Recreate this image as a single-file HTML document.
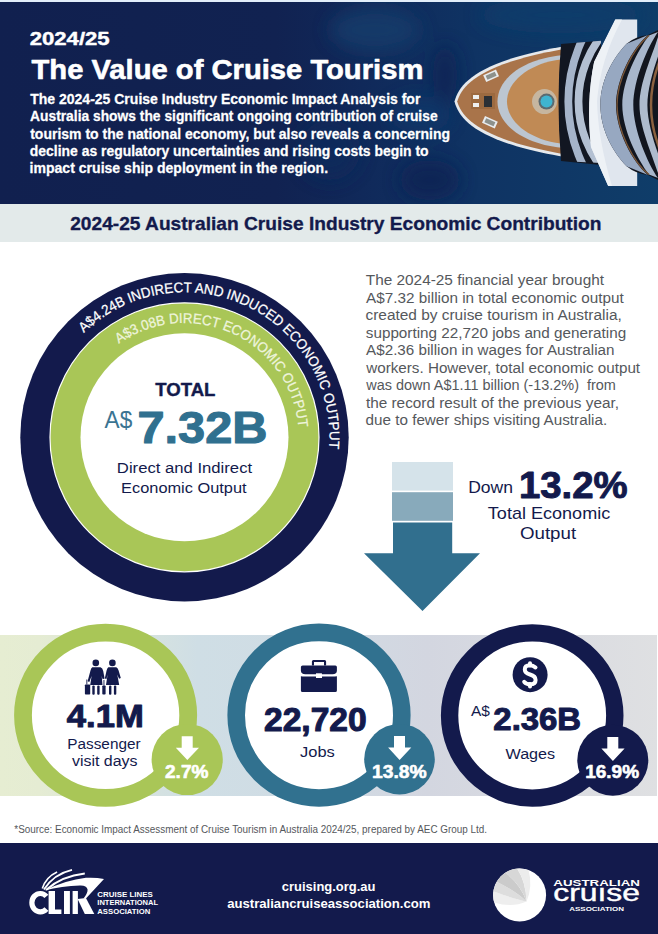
<!DOCTYPE html>
<html><head><meta charset="utf-8"><style>html,body{margin:0;padding:0;background:#fff;width:658px;height:934px;overflow:hidden} svg{display:block}</style></head>
<body>
<svg width="658" height="934" viewBox="0 0 658 934" font-family='"Liberation Sans", sans-serif'>
<defs>
  <linearGradient id="hdr" x1="0" y1="0" x2="1" y2="0">
    <stop offset="0" stop-color="#11204f"/>
    <stop offset="0.42" stop-color="#112251"/>
    <stop offset="0.55" stop-color="#10295a"/>
    <stop offset="0.72" stop-color="#0f3363"/>
    <stop offset="1" stop-color="#0f3d69"/>
  </linearGradient>
  <linearGradient id="band" x1="0" y1="0" x2="658" y2="0" gradientUnits="userSpaceOnUse">
    <stop offset="0" stop-color="#e6edd2"/>
    <stop offset="0.06" stop-color="#e5ecd3"/>
    <stop offset="0.3" stop-color="#cfdee5"/>
    <stop offset="0.45" stop-color="#d0dce4"/>
    <stop offset="0.65" stop-color="#d3d6e0"/>
    <stop offset="1" stop-color="#dfe0e2"/>
  </linearGradient>
  <path id="pOut" d="M83.77 333.00 A145 145 0 0 1 329.07 448.42"/>
  <path id="pIn" d="M118.94 343.67 A114.3 114.3 0 0 1 298.37 427.34"/>
</defs>
<rect width="658" height="934" fill="#fff"/>
<rect x="0" y="0" width="658" height="2" fill="#e2eefa"/>
<rect x="0" y="2" width="658" height="202" fill="url(#hdr)"/>
<clipPath id="hdrClip"><rect x="0" y="2" width="658" height="202"/></clipPath>
<g id="ship" clip-path="url(#hdrClip)">
<defs>
 <clipPath id="supR"><path d="M594 54 L628.6 42 L658 33 L658 173 L628.6 171 L594 158 Z"/></clipPath>
 <clipPath id="supL"><path d="M560 44 L601 40.8 L601 163 L560 161 Z"/></clipPath>
 <filter id="blur6" x="-50%" y="-50%" width="200%" height="200%"><feGaussianBlur stdDeviation="9"/></filter>
</defs>
<g filter="url(#blur6)" opacity="0.8">
 <ellipse cx="375" cy="30" rx="45" ry="22" fill="#123c6c"/>
 <ellipse cx="420" cy="115" rx="30" ry="18" fill="#11396a"/>
 <ellipse cx="560" cy="15" rx="80" ry="18" fill="#103e6c"/>
 <ellipse cx="445" cy="75" rx="12" ry="30" fill="#0c2452"/>
 <ellipse cx="330" cy="150" rx="30" ry="30" fill="#0f2b5c"/>
 <ellipse cx="430" cy="180" rx="30" ry="20" fill="#0c2452"/>
</g>
<g>
 <path d="M454.5 101.6 C460 80 485 55 601 41 L601 162.2 C485 148.2 460 123.2 454.5 101.6 Z" fill="#e6e9ec"/>
 <path d="M457.2 101.6 C463 82 487 58 601 43.6 L601 159.6 C487 145.2 463 121.2 457.2 101.6 Z" fill="#a9744a"/>
 <path d="M566 55 C530 57 497.5 75 497.5 101.6 C497.5 128 530 146 566 148 Z" fill="#bcc6d1"/>
 <path d="M566 59 C534 61 507 79 507 101.6 C507 124 534 142 566 144 Z" fill="#c08a55"/>
 <circle cx="544.5" cy="101.6" r="12.5" fill="#c6b6a0"/>
 <circle cx="546.5" cy="101.6" r="8" fill="#5b6a70"/>
 <circle cx="546.5" cy="101.6" r="6" fill="#3fb4d0"/>
 <rect x="484" y="72" width="14" height="7.5" fill="#e8ecef" transform="rotate(-24 491 75.5)"/>
 <rect x="486" y="73.5" width="10" height="4.5" fill="#8d918c" transform="rotate(-24 491 75.5)"/>
 <rect x="483" y="118.5" width="14" height="7.5" fill="#e8ecef" transform="rotate(24 490 122)"/>
 <rect x="485" y="120" width="10" height="4.5" fill="#8d918c" transform="rotate(24 490 122)"/>
 <rect x="471" y="93" width="24" height="16" fill="#9c6a40"/>
 <rect x="473" y="95" width="6" height="4" fill="#eef0f0"/>
 <rect x="473" y="103" width="6" height="4" fill="#eef0f0"/>
 <rect x="484" y="96" width="8" height="11" fill="#2a2f35"/>
 <path d="M561 44 L601 40.8 L601 165 L561 161 Q556 101.6 561 44 Z" fill="#121722"/>
 <g clip-path="url(#supL)" fill="none">
  <circle cx="713" cy="101.6" r="144.7" stroke="#a5b4ca" stroke-width="7.8"/>
  <circle cx="684" cy="101.6" r="105.5" stroke="#b3c0d2" stroke-width="7.8"/>
 </g>
 <path d="M615.3 19.4 L637.2 19.4 L637.2 186 L608.2 186 L591 147 Q586 101.6 594.1 62 Z" fill="#e0e6ee"/>
 <path d="M615.3 19.4 L622 19.4 Q600 60 597 101.6 Q598 140 612 186 L608.2 186 L591 147 Q586 101.6 594.1 62 Z" fill="#eef2f6"/>
 <path d="M626.6 43.7 Q636 36 648 35 L658 30 L658 180.0 L648 175.0 Q636 174.0 626.6 166.3 C613 152.0 600.4 130.0 600.4 105.0 C600.4 80 613 58 626.6 43.7 Z" fill="#12161f"/>
 <path d="M626.6 43.7 C613 58 600.4 80 600.4 105.0 C600.4 130.0 613 152.0 626.6 166.3 L648 175.0 C632 162.0 616 130.0 616 105.0 C616 80 632 48 648 35 Z" fill="#97a8c1"/>
 <path d="M649 35.5 C638 50 622.3 80 622.3 105.0 C622.3 130.0 638 160.0 649 174.5 L658 178.0 C648 164.0 633.3 130.0 633.3 105.0 C633.3 80 648 46 658 32 Z" fill="#a7b6cb"/>
 <path d="M660 30 C655 50 639.5 80 639.5 105.0 C639.5 130.0 655 160.0 660 180.0 L668 180.0 C662 164.0 647.4 130.0 647.4 105.0 C647.4 80 662 46 668 30 Z" fill="#aebbcd"/>
 <path d="M617 105.0 C617 80 633 48 649 35.5" fill="none" stroke="#7a5638" stroke-width="1.4"/>
 <path d="M617 105.0 C617 130.0 633 162.0 649 174.5" fill="none" stroke="#7a5638" stroke-width="1.4"/>
 <path d="M651 105.0 C651 85 656 70 660 60" fill="none" stroke="#8a6140" stroke-width="2.5"/>
 <path d="M651 105.0 C651 125.0 656 140.0 660 150.0" fill="none" stroke="#8a6140" stroke-width="2.5"/>
</g>
</g>
<rect x="0" y="204" width="658" height="38" fill="#e3eaea"/>

<!-- big circle -->
<circle cx="184.5" cy="437.3" r="164.2" fill="#131a4c"/>
<circle cx="184.5" cy="437.3" r="134.5" fill="#a9c657" stroke="#fff" stroke-width="1.2"/>
<circle cx="184.5" cy="437.3" r="104" fill="#fff"/>
<text font-size="14.2" fill="#fff"><textPath href="#pOut" textLength="350.3" lengthAdjust="spacingAndGlyphs" stroke="#fff" stroke-width="0.25">A$4.24B INDIRECT AND INDUCED ECONOMIC OUTPUT</textPath></text>
<text font-size="14.2" fill="#eef4dc"><textPath href="#pIn" textLength="239.4" lengthAdjust="spacingAndGlyphs" stroke="#eef4dc" stroke-width="0.25">A$3.08B DIRECT ECONOMIC OUTPUT</textPath></text>

<!-- arrow -->
<rect x="392" y="462" width="61" height="28.6" fill="#d5e3ea"/>
<rect x="392" y="492.2" width="61" height="28.6" fill="#88aabb"/>
<path d="M393 522.4 H452.2 V553.2 H480 L422.5 611 L364 553.2 H393 Z" fill="#316f8e"/>

<!-- bottom band -->
<rect x="0" y="635" width="657" height="161" fill="url(#band)"/>
<circle cx="105.6" cy="715.3" r="82.6" fill="#fff" stroke="#a9c657" stroke-width="17.8"/>
<circle cx="187.2" cy="759.5" r="35.6" fill="#a9c657"/>
<circle cx="319" cy="715.2" r="82.8" fill="#fff" stroke="#31718f" stroke-width="17.6"/>
<circle cx="399.5" cy="759.2" r="35.3" fill="#31718f"/>
<circle cx="532.2" cy="715.5" r="82.6" fill="#fff" stroke="#131a4c" stroke-width="17.4"/>
<circle cx="612.8" cy="760.2" r="35.5" fill="#131a4c"/>

<!-- badge arrows -->
<path d="M181.7 736.2 H192.7 V747.8 H199 L187.3 760.1 L175.8 747.8 H181.7 Z" fill="#fff"/>
<path d="M394 736.0 H405 V747.6 H411.3 L399.6 759.9 L388.1 747.6 H394 Z" fill="#fff"/>
<path d="M607.3 737.0 H618.3 V748.6 H624.6 L612.9 760.9 L601.4 748.6 H607.3 Z" fill="#fff"/>

<!-- icons -->
<g id="icons">
<g fill="#131a4c">
 <circle cx="95.8" cy="662.9" r="3.3"/>
 <path d="M92.3 667.3 H100.5 Q102.6 668 103.2 671 L104.6 678.5 L102.6 679.2 L101.7 676 L102.5 685 H90.2 L91.6 676 L89.3 682 L87.6 681.3 L90.5 670.5 Q91 668 92.3 667.3 Z"/>
 <rect x="92.3" y="685.5" width="2.4" height="9.3" rx="1"/>
 <rect x="97.2" y="685.5" width="2.4" height="9.3" rx="1"/>
 <rect x="84.9" y="684.4" width="5.3" height="10.2" rx="0.8"/>
 <rect x="86.4" y="679.5" width="0.9" height="5"/>
 <circle cx="112.4" cy="662.9" r="3.3"/>
 <path d="M108.3 667.3 H116.3 Q118 668 118.6 670.5 L120.8 678 L119 678.7 L117.3 674.5 L119.2 685 H106 L107.6 674.5 L106.5 679 L104.8 678.4 L106.6 670.5 Q107.2 668 108.3 667.3 Z"/>
 <rect x="109" y="685.5" width="2.4" height="9.3" rx="1"/>
 <rect x="113.9" y="685.5" width="2.4" height="9.3" rx="1"/>
 <rect x="102.3" y="685.5" width="3.3" height="9.1" rx="0.8"/>
 <rect x="103.5" y="680" width="0.9" height="5.5"/>
</g>
<g fill="#131a4c">
 <path d="M311.9 665.6 V661.5 Q311.9 660 313.4 660 H324.6 Q326.1 660 326.1 661.5 V665.6 H324 V662 H314 V665.6 Z"/>
 <path d="M302.6 665.5 H335.3 Q336.9 665.5 336.9 667.1 V670.5 Q336.9 674.3 332.5 674.3 H305.3 Q300.9 674.3 300.9 670.5 V667.1 Q300.9 665.5 302.6 665.5 Z"/>
 <path d="M300.9 676.2 Q302.5 676.6 305.3 676.6 H316 V677.9 H322 V676.6 H332.5 Q335.3 676.6 336.9 676.2 V690.6 Q336.9 692.1 335.3 692.1 H302.5 Q300.9 692.1 300.9 690.6 Z"/>
 <rect x="316" y="673.3" width="5.9" height="4.4" fill="#fff"/>
</g>
<circle cx="530.1" cy="674.7" r="17.5" fill="#131a4c"/>
<path d="M535.5 667.5 Q533 665.3 530 665.3 Q524.8 665.3 524.8 669.6 Q524.8 673 530 674.5 Q535.6 676 535.6 680 Q535.6 684.3 530 684.3 Q526.5 684.3 524.2 681.8" fill="none" stroke="#fff" stroke-width="4" stroke-linecap="round"/>
<path d="M530 663.3 V665.5 M530 684 V686.6" stroke="#fff" stroke-width="4" stroke-linecap="round"/>
</g>

<!-- footer -->
<rect x="0" y="843" width="658" height="91" fill="#131a4c"/>
<g id="logos">
<g fill="#fff">
 <path d="M46.4 896.4 A8.4 9.2 0 1 0 46.4 909.0" fill="none" stroke="#fff" stroke-width="5.2"/>
 <path d="M48.6 891 H55 V909.6 H61.4 V914 H48.6 Z"/>
 <path d="M64 891 H69.9 V914 H64 Z"/>
 <path d="M72.6 891 H77.9 V914 H72.6 Z"/>
 <path d="M77.6 899 L85.9 898 L94.3 914 L84.8 914 Z"/>
 <path d="M44.4 890.6 Q66 880 85.9 877.8 Q96 877.3 104 878.9 L85.9 898.6 L83.5 898.6 Q87.8 893 87.6 889.5 Q86.5 885.3 80 885.6 Q62 886.3 44.4 890.6 Z"/>
 <path d="M42.3 888.5 Q46 877 57.1 872" fill="none" stroke="#fff" stroke-width="1.6"/>
 <path d="M43.9 889.5 Q54 874 72 869.9" fill="none" stroke="#fff" stroke-width="1.8"/>
 <path d="M46 890 Q62 876 84.8 873.6" fill="none" stroke="#fff" stroke-width="2"/>
 <text x="97.3" y="897.3" font-size="7.4" font-weight="bold" textLength="55.4" lengthAdjust="spacingAndGlyphs">CRUISE LINES</text>
 <text x="97.3" y="905.4" font-size="7.4" font-weight="bold" textLength="60.7" lengthAdjust="spacingAndGlyphs">INTERNATIONAL</text>
 <text x="97.3" y="914" font-size="7.4" font-weight="bold" textLength="53" lengthAdjust="spacingAndGlyphs">ASSOCIATION</text>
</g>
<circle cx="519.6" cy="895.0" r="26.5" fill="#fff"/>
 <path d="M494.16 902.43 Q512 908 526.5 901.4 Q515 899.5 493.37 891.19 A26.5 26.5 0 0 0 494.16 902.43 Z" fill="#eeeeee"/>
 <path d="M493.37 891.19 Q515 899.5 526.5 901.4 Q516 891.3 496.72 881.63 A26.5 26.5 0 0 0 493.37 891.19 Z" fill="#dddddd"/>
 <path d="M496.72 881.63 Q516 891.3 526.5 901.4 Q521 885 505.50 872.56 A26.5 26.5 0 0 0 496.72 881.63 Z" fill="#cbcbcb"/>
 <path d="M505.50 872.56 Q521 885 526.5 901.4 Q526 882.2 517.13 868.62 A26.5 26.5 0 0 0 505.50 872.56 Z" fill="#d7d7d7"/>
 <path d="M517.13 868.62 Q526 882.2 526.5 901.4 Q533 887 528.57 870.06 A26.5 26.5 0 0 0 517.13 868.62 Z" fill="#ececec"/>
<g fill="#fff">
 <text x="553.3" y="886.2" font-size="8.8" font-weight="bold" textLength="86.7" lengthAdjust="spacingAndGlyphs">AUSTRALIAN</text>
 <text x="553.3" y="901.3" font-size="23" stroke="#fff" stroke-width="0.4" textLength="86.7" lengthAdjust="spacingAndGlyphs">cruıse</text>
 <text x="569.3" y="911.2" font-size="5.5" font-weight="bold" textLength="54.7" lengthAdjust="spacingAndGlyphs">ASSOCIATION</text>
</g>
</g>

<text transform="translate(29.69,45.35) scale(1.1659,1)" font-size="18.99" font-weight="bold" fill="#fff" stroke="#fff" stroke-width="0.43" stroke-linejoin="round" >2024/25</text>
<text transform="translate(31.51,79.20) scale(1.0247,1)" font-size="28.49" font-weight="bold" fill="#fff" stroke="#fff" stroke-width="0.59" stroke-linejoin="round" >The Value of Cruise Tourism</text>
<text transform="translate(30.18,104.17) scale(0.9790,1)" font-size="14.32" font-weight="bold" fill="#fff" stroke="#fff" stroke-width="0.26" stroke-linejoin="round" >The 2024-25 Cruise Industry Economic Impact Analysis for</text>
<text transform="translate(30.05,121.42) scale(0.9655,1)" font-size="14.32" font-weight="bold" fill="#fff" stroke="#fff" stroke-width="0.26" stroke-linejoin="round" >Australia shows the significant ongoing contribution of cruise</text>
<text transform="translate(30.18,138.68) scale(0.9784,1)" font-size="14.32" font-weight="bold" fill="#fff" stroke="#fff" stroke-width="0.26" stroke-linejoin="round" >tourism to the national economy, but also reveals a concerning</text>
<text transform="translate(29.77,155.93) scale(0.9739,1)" font-size="14.32" font-weight="bold" fill="#fff" stroke="#fff" stroke-width="0.26" stroke-linejoin="round" >decline as regulatory uncertainties and rising costs begin to</text>
<text transform="translate(29.48,173.18) scale(0.9834,1)" font-size="14.32" font-weight="bold" fill="#fff" stroke="#fff" stroke-width="0.25" stroke-linejoin="round" >impact cruise ship deployment in the region.</text>
<text transform="translate(70.20,229.52) scale(1.0604,1)" font-size="18.06" font-weight="bold" fill="#131a4c" stroke="#131a4c" stroke-width="0.33" stroke-linejoin="round" >2024-25 Australian Cruise Industry Economic Contribution</text>
<text transform="translate(365.79,285.00) scale(1.0472,1)" font-size="14.68" font-weight="normal" fill="#55585c" xml:space="preserve">The 2024-25 financial year brought</text>
<text transform="translate(366.10,302.52) scale(1.0427,1)" font-size="14.68" font-weight="normal" fill="#55585c" xml:space="preserve">A$7.32 billion in total economic output</text>
<text transform="translate(365.48,320.04) scale(1.0518,1)" font-size="14.68" font-weight="normal" fill="#55585c" xml:space="preserve">created by cruise tourism in Australia,</text>
<text transform="translate(365.79,337.56) scale(1.0393,1)" font-size="14.68" font-weight="normal" fill="#55585c" xml:space="preserve">supporting 22,720 jobs and generating</text>
<text transform="translate(366.10,355.08) scale(1.0357,1)" font-size="14.68" font-weight="normal" fill="#55585c" xml:space="preserve">A$2.36 billion in wages for Australian</text>
<text transform="translate(366.25,372.60) scale(1.0368,1)" font-size="14.68" font-weight="normal" fill="#55585c" xml:space="preserve">workers. However, total economic output</text>
<text transform="translate(366.24,390.12) scale(0.9860,1)" font-size="14.68" font-weight="normal" fill="#55585c" xml:space="preserve">was down A$1.11 billion (-13.2%)  from</text>
<text transform="translate(365.95,407.64) scale(1.0450,1)" font-size="14.68" font-weight="normal" fill="#55585c" xml:space="preserve">the record result of the previous year,</text>
<text transform="translate(365.49,425.16) scale(1.0392,1)" font-size="14.68" font-weight="normal" fill="#55585c" xml:space="preserve">due to fewer ships visiting Australia.</text>
<text transform="translate(155.21,395.80) scale(1.0260,1)" font-size="18.13" font-weight="bold" fill="#131a4c" stroke="#131a4c" stroke-width="0.39" stroke-linejoin="round" >TOTAL</text>
<text transform="translate(104.60,428.00) scale(0.9247,1)" font-size="24.46" font-weight="normal" fill="#3b7492" >A$</text>
<text transform="translate(137.45,443.20) scale(1.1138,1)" font-size="43.74" font-weight="bold" fill="#30708f" stroke="#30708f" stroke-width="1.08" stroke-linejoin="round" >7.32B</text>
<text transform="translate(116.87,473.40) scale(1.1150,1)" font-size="14.96" font-weight="normal" fill="#131a4c" >Direct and Indirect</text>
<text transform="translate(121.09,492.50) scale(1.0949,1)" font-size="14.96" font-weight="normal" fill="#131a4c" >Economic Output</text>
<text transform="translate(468.20,492.80) scale(1.0586,1)" font-size="16.55" font-weight="normal" fill="#131a4c" >Down</text>
<text transform="translate(518.90,498.10) scale(1.0535,1)" font-size="36.40" font-weight="bold" fill="#131a4c" stroke="#131a4c" stroke-width="0.95" stroke-linejoin="round" >13.2%</text>
<text transform="translate(487.84,518.80) scale(1.0634,1)" font-size="16.98" font-weight="normal" fill="#131a4c" >Total Economic</text>
<text transform="translate(519.95,539.30) scale(1.1028,1)" font-size="16.98" font-weight="normal" fill="#131a4c" >Output</text>
<text transform="translate(66.80,727.25) scale(1.0736,1)" font-size="32.23" font-weight="bold" fill="#131a4c" stroke="#131a4c" stroke-width="1.02" stroke-linejoin="round" >4.1M</text>
<text transform="translate(67.27,749.40) scale(0.9962,1)" font-size="15.40" font-weight="normal" fill="#131a4c" >Passenger</text>
<text transform="translate(71.90,765.50) scale(1.0374,1)" font-size="15.40" font-weight="normal" fill="#131a4c" >visit days</text>
<text transform="translate(165.03,777.90) scale(1.0512,1)" font-size="18.13" font-weight="bold" fill="#fff" stroke="#fff" stroke-width="0.57" stroke-linejoin="round" >2.7%</text>
<text transform="translate(264.04,730.95) scale(1.0364,1)" font-size="32.37" font-weight="bold" fill="#131a4c" stroke="#131a4c" stroke-width="1.06" stroke-linejoin="round" >22,720</text>
<text transform="translate(300.04,757.00) scale(1.1212,1)" font-size="14.68" font-weight="normal" fill="#131a4c" >Jobs</text>
<text transform="translate(371.94,777.50) scale(1.0995,1)" font-size="17.55" font-weight="bold" fill="#fff" stroke="#fff" stroke-width="0.55" stroke-linejoin="round" >13.8%</text>
<text transform="translate(470.90,716.20) scale(1.0354,1)" font-size="14.96" font-weight="normal" fill="#131a4c" >A$</text>
<text transform="translate(493.36,729.95) scale(1.0344,1)" font-size="31.80" font-weight="bold" fill="#131a4c" stroke="#131a4c" stroke-width="1.06" stroke-linejoin="round" >2.36B</text>
<text transform="translate(505.50,758.80) scale(1.1009,1)" font-size="14.68" font-weight="normal" fill="#131a4c" >Wages</text>
<text transform="translate(585.16,777.60) scale(1.0655,1)" font-size="17.84" font-weight="bold" fill="#fff" stroke="#fff" stroke-width="0.56" stroke-linejoin="round" >16.9%</text>
<text transform="translate(14.30,832.50) scale(0.9845,1)" font-size="10.07" font-weight="normal" fill="#55585c" >*Source: Economic Impact Assessment of Cruise Tourism in Australia 2024/25, prepared by AEC Group Ltd.</text>
<text transform="translate(281.81,891.00) scale(1.0026,1)" font-size="12.95" font-weight="bold" fill="#fff" >cruising.org.au</text>
<text transform="translate(227.24,908.10) scale(1.0136,1)" font-size="12.95" font-weight="bold" fill="#fff" >australiancruiseassociation.com</text>
</svg>
</body></html>
